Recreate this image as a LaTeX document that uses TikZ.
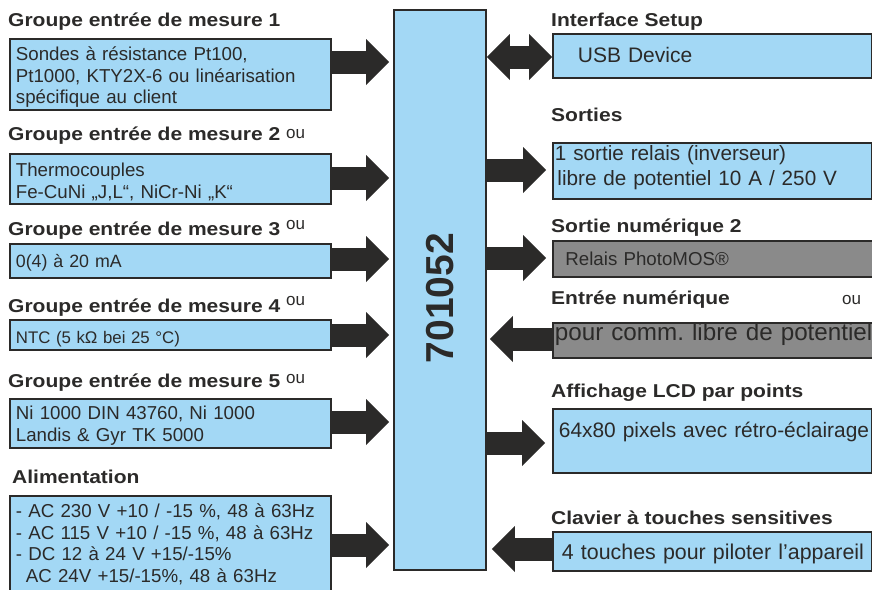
\documentclass[tikz,border=0pt]{standalone}
\usepackage{fontspec}
\setmainfont{Liberation Sans}
\newfontfamily\headfont[FakeStretch=1.13]{Liberation Sans}
\usetikzlibrary{arrows.meta}
\definecolor{myblue}{RGB}{163, 216, 245}
\definecolor{mygray}{RGB}{138, 138, 138}
\definecolor{mydark}{RGB}{43, 42, 41}
\newcommand{\orsup}[1]{\raisebox{#1}{\normalfont\fontsize{17}{20}\selectfont ou}}

\begin{document}
\begin{tikzpicture}[x=1pt, y=-1pt,
        >={Triangle[length=23pt, width=46pt, line width=0pt]},
        head/.style={anchor=base west, inner sep=0pt, text=mydark, font=\headfont\bfseries\fontsize{18.6}{22}\selectfont},
        field/.style={draw=mydark, line width=1.8pt, fill=myblue, anchor=north west, inner xsep=6pt, inner ysep=0pt, align=left, text=mydark, font=\fontsize{18.7}{21.5}\selectfont},
        leftfield/.style={field, text width=309pt},
        rightfield/.style={field, inner xsep=2pt, text width=315pt},
        grayfield/.style={rightfield, fill=mygray, text width=326pt},
        bigarrow/.style={draw=mydark, line width=23pt, ->}]
        \useasboundingbox (0,0) rectangle (872,589);

        % Central unit
        \node[draw=mydark, line width=1.8pt, fill=myblue, minimum width=92pt, minimum height=560pt, inner sep=0pt] (cpu) at (440,290) {};
        \node[rotate=90, text=mydark, font=\bfseries\fontsize{39}{40}\selectfont] (cpuname) at ([yshift=-8pt]cpu.center) {701052};

        % Groupe 1 - Pt100
        \node[head] (title1) at (8,27) {Groupe entrée de mesure 1};
        \node[leftfield, text height=22pt, text depth=49pt] (in1) at (9,38) {Sondes à résistance Pt100,\\Pt1000, KTY2X-6 ou linéarisation\\spécifique au client};

        % Groupe 2 - Thermocouples
        \node[head] (title2) at (8,140) {Groupe entrée de mesure 2 \orsup{2pt}};
        \node[leftfield, text height=23pt, text depth=27pt] (in2) at (9,153) {Thermocouples\\Fe-CuNi „J,L“, NiCr-Ni „K“};

        % Groupe 3 - courant
        \node[head] (title3) at (8,235) {Groupe entrée de mesure 3 \orsup{6pt}};
        \node[leftfield, text height=24pt, text depth=10pt, font=\fontsize{17.8}{21.5}\selectfont] (in3) at (9,243) {0(4) à 20 mA};

        % Groupe 4 - NTC
        \node[head] (title4) at (8,312) {Groupe entrée de mesure 4 \orsup{7pt}};
        \node[leftfield, text height=24pt, text depth=6pt, font=\fontsize{16.8}{20}\selectfont] (in4) at (9,319) {NTC (5 kΩ bei 25 °C)};

        % Groupe 5 - Ni 1000
        \node[head] (title5) at (8,387) {Groupe entrée de mesure 5 \orsup{4pt}};
        \node[leftfield, text height=21pt, text depth=28pt] (in5) at (9,398) {Ni 1000 DIN 43760, Ni 1000\\Landis \& Gyr TK 5000};

        % Alimentation
        \node[head] (title6) at (12,483) {Alimentation};
        \node[leftfield, text height=22pt, text depth=78pt] (power) at (9,495) {- AC 230 V +10 / -15 \%, 48 à 63Hz\\- AC 115 V +10 / -15 \%, 48 à 63Hz\\- DC 12 à 24 V +15/-15\%\\\hspace*{10pt}AC 24V +15/-15\%, 48 à 63Hz};

        % Interface Setup
        \node[head] (title7) at (551,27) {Interface Setup};
        \node[rightfield, text height=29pt, text depth=15pt, font=\fontsize{21}{25}\selectfont] (usb) at (552,33) {\hspace*{23pt}USB Device};

        % Sorties
        \node[head] (title8) at (551,121) {Sorties};
        \node[rightfield, text height=18pt, text depth=38pt, font=\fontsize{20.7}{24.5}\selectfont] (relay) at (552,142) {1 sortie relais (inverseur)\\\hspace*{2.5pt}libre de potentiel 10 A / 250 V};

        % Sortie numerique 2
        \node[head] (title9) at (551,232) {Sortie numérique 2};
        \node[grayfield, text height=25pt, text depth=11pt] (photomos) at (552,240) {\hspace*{10.5pt}Relais PhotoMOS®};

        % Entree numerique
        \node[head] (title10) at (551,304) {\makebox[291pt][l]{Entrée numérique}{\normalfont\fontsize{17}{20}\selectfont ou}};
        \node[grayfield, text height=18pt, text depth=17pt, font=\fontsize{24.2}{28}\selectfont] (dinput) at (552,322) {\mbox{pour comm.\ libre de potentiel}};

        % Affichage LCD
        \node[head] (title11) at (551,397) {Affichage LCD par points};
        \node[rightfield, text height=29pt, text depth=35pt, font=\fontsize{20.9}{25}\selectfont] (lcd) at (552,408) {\mbox{\hspace*{4pt}64x80 pixels avec rétro-éclairage}};

        % Clavier
        \node[head] (title12) at (551,524) {Clavier à touches sensitives};
        \node[rightfield, text height=28pt, text depth=11pt, font=\fontsize{21.4}{26}\selectfont] (keys) at (552,531) {\hspace*{7pt}4 touches pour piloter l’appareil};

        % Arrows into the unit
        \draw[bigarrow, shorten >=4pt] (in1.east |- 0,62) -- (cpu.west |- 0,62);
        \draw[bigarrow, shorten >=4pt] (in2.east |- 0,178) -- (cpu.west |- 0,178);
        \draw[bigarrow, shorten >=4pt] (in3.east |- 0,259) -- (cpu.west |- 0,259);
        \draw[bigarrow, shorten >=4pt] (in4.east |- 0,335) -- (cpu.west |- 0,335);
        \draw[bigarrow, shorten >=4pt] (in5.east |- 0,422) -- (cpu.west |- 0,422);
        \draw[bigarrow, shorten >=4pt] (power.east |- 0,545) -- (cpu.west |- 0,545);

        % Arrows on the right side
        \draw[bigarrow, <->] (cpu.east |- 0,57) -- (usb.west |- 0,57);
        \draw[bigarrow, shorten >=6pt] (cpu.east |- 0,170) -- (relay.west |- 0,170);
        \draw[bigarrow, shorten >=6pt] (cpu.east |- 0,258) -- (photomos.west |- 0,258);
        \draw[bigarrow, shorten >=3pt] (dinput.west |- 0,339) -- (cpu.east |- 0,339);
        \draw[bigarrow, shorten >=7pt] (cpu.east |- 0,443) -- (lcd.west |- 0,443);
        \draw[bigarrow, shorten >=5pt] (keys.west |- 0,549) -- (cpu.east |- 0,549);
    \end{tikzpicture}
\end{document}
